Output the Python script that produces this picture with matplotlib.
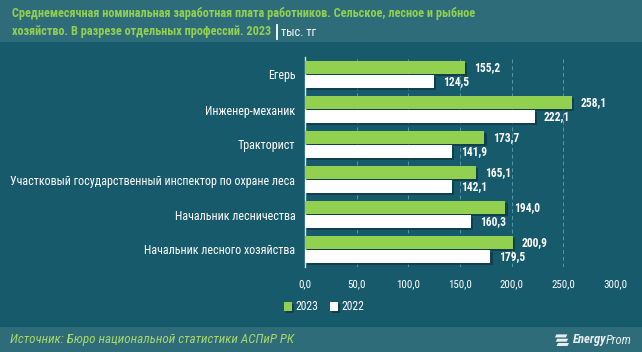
import matplotlib
matplotlib.use("Agg")
import matplotlib.pyplot as plt
import matplotlib.patheffects as pe
from matplotlib.patches import Rectangle, Polygon
import numpy as np
import logging
logging.getLogger("matplotlib.font_manager").setLevel(logging.ERROR)

categories = ["Егерь", "Инженер-механик", "Тракторист",
              "Участковый государственный инспектор по охране леса",
              "Начальник лесничества", "Начальник лесного хозяйства"]
values_2023 = [155.2, 258.1, 173.7, 165.1, 194.0, 200.9]
values_2022 = [124.5, 222.1, 141.9, 142.1, 160.3, 179.5]
series_names = ["2023", "2022"]
xticks = [0, 50, 100, 150, 200, 250, 300]

title_1 = "Среднемесячная номинальная заработная плата работников. Сельское, лесное и рыбное"
title_2 = "хозяйство. В разрезе отдельных профессий. 2023"
unit = "тыс. тг"
source = "Источник: Бюро национальной статистики АСПиР РК"

FONT = ["Roboto Condensed", "PT Sans Narrow", "Roboto", "DejaVu Sans"]
plt.rcParams["font.family"] = FONT

BG = "#175a6b"
BAND = "#2e6c7a"
GREEN = "#92d050"
WHITE = "#ffffff"

W, H = 642, 352
fig = plt.figure(figsize=(W / 100, H / 100), dpi=100, facecolor=BG)
renderer = fig.canvas.get_renderer()


def width_px(t):
    return t.get_window_extent(renderer).width


def fit(t, target):
    t.set_fontsize(t.get_fontsize() * target / width_px(t))
    return t.get_fontsize()


# header and footer bands
fig.patches.append(Rectangle((0, 1 - 42 / H), 1, 42 / H, transform=fig.transFigure,
                             facecolor=BAND, edgecolor="none", zorder=0))
fig.patches.append(Rectangle((0, 0), 1, 25 / H, transform=fig.transFigure,
                             facecolor=BAND, edgecolor="none", zorder=0))

left, right = 305 / W, 615 / W
top, bottom = 57 / H, 267 / H
ax = fig.add_axes([left, 1 - bottom, right - left, bottom - top])
ax.set_facecolor("none")

n = len(categories)
y = np.arange(n)
off = 0.205
h = 0.36
shadow = [pe.SimplePatchShadow(offset=(1.5, -1.5), shadow_rgbFace="#0b2f38", alpha=0.6), pe.Normal()]
b1 = ax.barh(y - off, values_2023, height=h, color=GREEN, label=series_names[0], zorder=3)
b2 = ax.barh(y + off, values_2022, height=h, color=WHITE, label=series_names[1], zorder=3)
for bars in (b1, b2):
    for p in bars:
        p.set_path_effects(shadow)

ax.set_ylim(n - 0.5, -0.5)
ax.set_xlim(0, 300)

# value labels
vals = []
for yy, v in list(zip(y - off, values_2023)) + list(zip(y + off, values_2022)):
    vals.append(ax.text(v, yy, f"{v:.1f}".replace(".", ","), va="center", ha="left",
                        color=WHITE, fontsize=9, fontweight="bold"))
vs = fit(vals[0], 26)
for t in vals:
    t.set_fontsize(vs)
    t.set_transform(ax.transData + matplotlib.transforms.ScaledTranslation(9 / 100, 0, fig.dpi_scale_trans))

ax.set_yticks(y)
ax.set_yticklabels(categories, color=WHITE, fontsize=9)
ax.tick_params(axis="y", length=0, pad=7)
ax.set_xticks(xticks)
ax.set_xticklabels([f"{t:.1f}".replace(".", ",") for t in xticks], color=WHITE, fontsize=9)
ax.tick_params(axis="x", length=0, pad=9)
ax.grid(axis="x", color="#4f9ba8", linestyle=(0, (4, 3)), linewidth=0.7, zorder=0)
for s in ["top", "right", "bottom"]:
    ax.spines[s].set_visible(False)
ax.spines["left"].set_color("#d8e4e6")
ax.spines["left"].set_linewidth(1)

probe = fig.text(0, 0, categories[3], fontsize=9)
cs = fit(probe, 287)
probe.remove()
ax.tick_params(axis="y", labelsize=cs)
probe = fig.text(0, 0, "300,0", fontsize=9)
ts = fit(probe, 24)
probe.remove()
ax.tick_params(axis="x", labelsize=ts)

probe = fig.text(0, 0, "2023", fontsize=9)
ls = fit(probe, 23)
probe.remove()
leg = ax.legend(loc="center", bbox_to_anchor=(((287 + 361) / 2 / W - left) / (right - left),
                                               (1 - 307 / H - (1 - bottom)) / (bottom - top)),
                ncol=2, frameon=False, fontsize=ls, handlelength=0.7, handleheight=0.7,
                handletextpad=0.3, columnspacing=1.0, labelcolor=WHITE)

t1 = fig.text(12 / W, 1 - 14 / H, title_1, color=GREEN, fontsize=10, fontweight="bold",
              va="center", ha="left")
tsz = fit(t1, 466)
t2 = fig.text(12 / W, 1 - 32 / H, title_2, color=GREEN, fontsize=tsz, fontweight="bold",
              va="center", ha="left")
x_end = t2.get_window_extent(renderer).x1
fig.add_artist(plt.Line2D([(x_end + 6) / W] * 2, [1 - 39 / H, 1 - 25 / H], color=WHITE,
                          linewidth=1.3, transform=fig.transFigure))
fig.text((x_end + 10) / W, 1 - 32 / H, unit, color=WHITE, fontsize=tsz, va="center", ha="left")

src = fig.text(10 / W, 12.5 / H, source, color="#a8d86a", fontsize=9, style="italic",
               va="center", ha="left")
fit(src, 285)

# logo
pr = fig.text(632 / W, 12 / H, "Prom", color="#e8eef0", fontsize=10,
              style="italic", va="center", ha="right")
fit(pr, 26)
px0 = pr.get_window_extent(renderer).x0
en = fig.text(px0 / W, 12 / H, "Energy", color="#e8eef0", fontsize=pr.get_fontsize(),
              fontweight="bold", style="italic", va="center", ha="right")
ex0 = en.get_window_extent(renderer).x0
for i in range(3):
    yb = (6 + i * 4.3) / H
    x0 = (ex0 - 16 - i * 0.8) / W
    fig.patches.append(Polygon([[x0, yb], [x0 + 11 / W, yb], [x0 + 12.5 / W, yb + 3 / H],
                                [x0 + 1.5 / W, yb + 3 / H]], closed=True,
                               transform=fig.transFigure, facecolor="#e8eef0",
                               edgecolor="none"))

fig.savefig("out.png", dpi=100, facecolor=BG)
